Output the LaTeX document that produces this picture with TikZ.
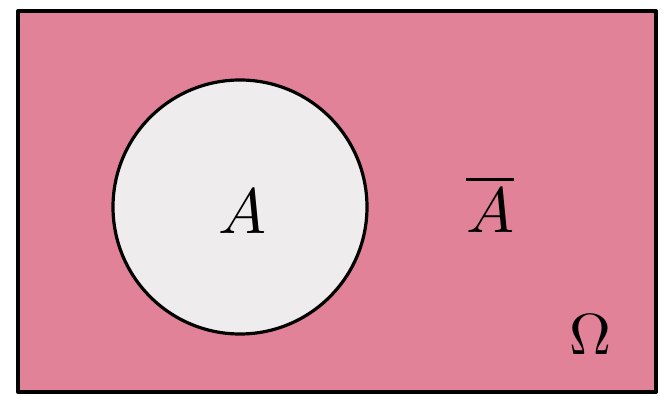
\documentclass[tikz,border=0pt]{standalone}
\usepackage{tikz}
\usepackage{xcolor}
\definecolor{venpink}{RGB}{226,130,152}
\definecolor{setgray}{RGB}{238,236,236}

\begin{document}
\begin{tikzpicture}[x=1pt,y=-1pt,line join=round]
  \useasboundingbox (0,0) rectangle (667,396);
  \coordinate (SW) at (18,392);
  \coordinate (NE) at (656,11);
  \coordinate (O) at (240,207);
  \fill[venpink] (SW) rectangle (NE);
  \fill[setgray] (O) circle (127);
  \draw[line width=3.2pt] (O) circle (127);
  \draw[line width=4pt] (SW) rectangle (NE);
  \node[scale=6.4] (a) at (242,212) {$A$};
  \node[scale=6.4] (abar) at (490,204) {$\overline{A}$};
  \node[scale=5.8] (omega) at (590,335) {$\Omega$};
\end{tikzpicture}
\end{document}
